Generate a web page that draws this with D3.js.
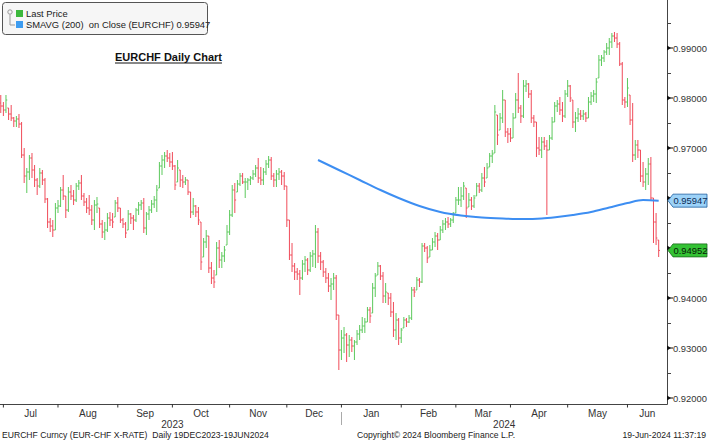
<!DOCTYPE html>
<html>
<head>
<meta charset="utf-8">
<script src="https://cdn.jsdelivr.net/npm/d3@7"></script>
<style>
body { margin: 0; background: #fff; }
svg { display: block; font-family: "Liberation Sans", Arial, sans-serif; }
</style>
</head>
<body>
<svg id="chart" width="708" height="441"></svg>
<script>
// EURCHF daily bars, 30 Jun 2023 .. 19 Jun 2024
const closes = [
	0.9784, 0.9776, 0.9796, 0.9768, 0.9760, 0.9754, 0.9758, 0.9748, 0.9686, 0.9644,
	0.9652, 0.9680, 0.9656, 0.9636, 0.9624, 0.9650, 0.9636, 0.9598, 0.9552, 0.9544,
	0.9536, 0.9580, 0.9584, 0.9616, 0.9604, 0.9576, 0.9612, 0.9604, 0.9596, 0.9624,
	0.9630, 0.9604, 0.9592, 0.9580, 0.9576, 0.9556, 0.9586, 0.9588, 0.9548, 0.9532,
	0.9536, 0.9560, 0.9556, 0.9552, 0.9590, 0.9580, 0.9556, 0.9548, 0.9530, 0.9568,
	0.9560, 0.9556, 0.9576, 0.9586, 0.9590, 0.9540, 0.9568, 0.9576, 0.9588, 0.9596,
	0.9616, 0.9664, 0.9676, 0.9684, 0.9680, 0.9672, 0.9664, 0.9626, 0.9660, 0.9636,
	0.9632, 0.9636, 0.9612, 0.9572, 0.9584, 0.9572, 0.9556, 0.9472, 0.9512, 0.9524,
	0.9460, 0.9440, 0.9432, 0.9500, 0.9476, 0.9484, 0.9496, 0.9532, 0.9566, 0.9616,
	0.9596, 0.9628, 0.9644, 0.9632, 0.9632, 0.9636, 0.9640, 0.9648, 0.9660, 0.9640,
	0.9636, 0.9652, 0.9668, 0.9676, 0.9644, 0.9636, 0.9648, 0.9652, 0.9644, 0.9624,
	0.9556, 0.9486, 0.9464, 0.9452, 0.9448, 0.9440, 0.9468, 0.9476, 0.9456, 0.9484,
	0.9488, 0.9532, 0.9484, 0.9472, 0.9452, 0.9440, 0.9424, 0.9428, 0.9440, 0.9366,
	0.9296, 0.9320, 0.9326, 0.9306, 0.9316, 0.9304, 0.9312, 0.9328, 0.9336, 0.9344,
	0.9352, 0.9376, 0.9364, 0.9420, 0.9444, 0.9464, 0.9444, 0.9404, 0.9412, 0.9400,
	0.9372, 0.9336, 0.9356, 0.9320, 0.9336, 0.9356, 0.9352, 0.9360, 0.9416, 0.9412,
	0.9436, 0.9432, 0.9504, 0.9500, 0.9480, 0.9496, 0.9512, 0.9524, 0.9516, 0.9536,
	0.9548, 0.9552, 0.9548, 0.9556, 0.9568, 0.9596, 0.9596, 0.9604, 0.9624, 0.9580,
	0.9596, 0.9584, 0.9600, 0.9624, 0.9616, 0.9640, 0.9632, 0.9660, 0.9684, 0.9688,
	0.9772, 0.9726, 0.9760, 0.9796, 0.9732, 0.9728, 0.9720, 0.9760, 0.9796, 0.9780,
	0.9764, 0.9824, 0.9828, 0.9808, 0.9760, 0.9752, 0.9700, 0.9696, 0.9712, 0.9704,
	0.9696, 0.9720, 0.9752, 0.9784, 0.9788, 0.9776, 0.9764, 0.9808, 0.9824, 0.9800,
	0.9752, 0.9760, 0.9768, 0.9764, 0.9768, 0.9760, 0.9792, 0.9804, 0.9808, 0.9832,
	0.9876, 0.9880, 0.9892, 0.9900, 0.9912, 0.9924, 0.9920, 0.9908, 0.9868, 0.9796,
	0.9792, 0.9820, 0.9756, 0.9686, 0.9706, 0.9696, 0.9644, 0.9632, 0.9648, 0.9668,
	0.9600, 0.9552, 0.9520, 0.94952
];
const highs = [
	0.9806, 0.9792, 0.9806, 0.9780, 0.9786, 0.9762, 0.9764, 0.9768, 0.9752, 0.9700,
	0.9660, 0.9686, 0.9690, 0.9666, 0.9640, 0.9660, 0.9656, 0.9640, 0.9600, 0.9560,
	0.9556, 0.9590, 0.9596, 0.9622, 0.9646, 0.9604, 0.9622, 0.9626, 0.9616, 0.9630,
	0.9636, 0.9646, 0.9610, 0.9600, 0.9606, 0.9586, 0.9596, 0.9602, 0.9580, 0.9556,
	0.9552, 0.9570, 0.9572, 0.9570, 0.9596, 0.9602, 0.9580, 0.9560, 0.9552, 0.9576,
	0.9570, 0.9566, 0.9580, 0.9592, 0.9596, 0.9600, 0.9572, 0.9584, 0.9596, 0.9604,
	0.9626, 0.9672, 0.9686, 0.9692, 0.9696, 0.9690, 0.9692, 0.9666, 0.9676, 0.9656,
	0.9646, 0.9642, 0.9636, 0.9612, 0.9600, 0.9586, 0.9582, 0.9552, 0.9520, 0.9536,
	0.9524, 0.9472, 0.9456, 0.9512, 0.9516, 0.9492, 0.9504, 0.9546, 0.9576, 0.9626,
	0.9630, 0.9636, 0.9650, 0.9650, 0.9640, 0.9640, 0.9644, 0.9656, 0.9666, 0.9680,
	0.9662, 0.9660, 0.9676, 0.9684, 0.9682, 0.9650, 0.9656, 0.9660, 0.9656, 0.9652,
	0.9624, 0.9556, 0.9510, 0.9470, 0.9460, 0.9456, 0.9476, 0.9484, 0.9480, 0.9492,
	0.9496, 0.9546, 0.9540, 0.9492, 0.9476, 0.9460, 0.9450, 0.9440, 0.9450, 0.9446,
	0.9366, 0.9336, 0.9342, 0.9330, 0.9326, 0.9322, 0.9316, 0.9336, 0.9346, 0.9362,
	0.9360, 0.9382, 0.9382, 0.9430, 0.9450, 0.9472, 0.9466, 0.9452, 0.9430, 0.9410,
	0.9410, 0.9392, 0.9370, 0.9360, 0.9340, 0.9362, 0.9360, 0.9366, 0.9422, 0.9422,
	0.9442, 0.9440, 0.9510, 0.9510, 0.9504, 0.9506, 0.9520, 0.9532, 0.9530, 0.9544,
	0.9556, 0.9560, 0.9562, 0.9560, 0.9572, 0.9602, 0.9622, 0.9622, 0.9632, 0.9620,
	0.9610, 0.9602, 0.9606, 0.9630, 0.9630, 0.9650, 0.9662, 0.9670, 0.9690, 0.9696,
	0.9786, 0.9766, 0.9770, 0.9816, 0.9796, 0.9740, 0.9740, 0.9770, 0.9810, 0.9850,
	0.9786, 0.9836, 0.9836, 0.9830, 0.9816, 0.9766, 0.9752, 0.9722, 0.9722, 0.9722,
	0.9716, 0.9726, 0.9762, 0.9792, 0.9796, 0.9802, 0.9792, 0.9816, 0.9836, 0.9826,
	0.9796, 0.9772, 0.9780, 0.9776, 0.9776, 0.9772, 0.9802, 0.9812, 0.9816, 0.9840,
	0.9886, 0.9886, 0.9896, 0.9910, 0.9920, 0.9930, 0.9932, 0.9930, 0.9912, 0.9872,
	0.9802, 0.9840, 0.9806, 0.9790, 0.9716, 0.9716, 0.9696, 0.9672, 0.9660, 0.9680,
	0.9682, 0.9600, 0.9570, 0.9516
];
const lows = [
	0.9770, 0.9764, 0.9770, 0.9756, 0.9754, 0.9742, 0.9742, 0.9740, 0.9680, 0.9630,
	0.9610, 0.9636, 0.9640, 0.9622, 0.9606, 0.9620, 0.9626, 0.9590, 0.9540, 0.9532,
	0.9522, 0.9536, 0.9570, 0.9582, 0.9596, 0.9560, 0.9572, 0.9596, 0.9586, 0.9592,
	0.9616, 0.9596, 0.9584, 0.9570, 0.9566, 0.9546, 0.9536, 0.9570, 0.9540, 0.9520,
	0.9516, 0.9532, 0.9544, 0.9540, 0.9562, 0.9572, 0.9550, 0.9540, 0.9520, 0.9536,
	0.9548, 0.9536, 0.9552, 0.9566, 0.9576, 0.9530, 0.9526, 0.9556, 0.9570, 0.9580,
	0.9572, 0.9620, 0.9646, 0.9660, 0.9672, 0.9662, 0.9656, 0.9616, 0.9632, 0.9622,
	0.9620, 0.9626, 0.9606, 0.9560, 0.9566, 0.9562, 0.9546, 0.9456, 0.9482, 0.9500,
	0.9450, 0.9428, 0.9420, 0.9446, 0.9460, 0.9460, 0.9472, 0.9506, 0.9526, 0.9562,
	0.9570, 0.9612, 0.9624, 0.9628, 0.9600, 0.9616, 0.9626, 0.9636, 0.9642, 0.9630,
	0.9626, 0.9626, 0.9646, 0.9660, 0.9636, 0.9622, 0.9622, 0.9636, 0.9626, 0.9616,
	0.9542, 0.9476, 0.9452, 0.9436, 0.9436, 0.9406, 0.9436, 0.9452, 0.9446, 0.9452,
	0.9462, 0.9460, 0.9470, 0.9456, 0.9442, 0.9430, 0.9412, 0.9396, 0.9416, 0.9356,
	0.9256, 0.9276, 0.9290, 0.9272, 0.9282, 0.9292, 0.9276, 0.9306, 0.9316, 0.9330,
	0.9330, 0.9352, 0.9350, 0.9370, 0.9402, 0.9446, 0.9436, 0.9390, 0.9390, 0.9386,
	0.9362, 0.9322, 0.9316, 0.9306, 0.9310, 0.9340, 0.9342, 0.9350, 0.9356, 0.9402,
	0.9416, 0.9422, 0.9430, 0.9492, 0.9470, 0.9482, 0.9496, 0.9502, 0.9496, 0.9516,
	0.9530, 0.9536, 0.9540, 0.9542, 0.9550, 0.9570, 0.9586, 0.9582, 0.9596, 0.9560,
	0.9582, 0.9576, 0.9580, 0.9604, 0.9610, 0.9612, 0.9622, 0.9640, 0.9662, 0.9670,
	0.9690, 0.9706, 0.9736, 0.9750, 0.9722, 0.9710, 0.9712, 0.9720, 0.9760, 0.9770,
	0.9750, 0.9760, 0.9812, 0.9800, 0.9750, 0.9742, 0.9682, 0.9686, 0.9680, 0.9696,
	0.9566, 0.9696, 0.9716, 0.9752, 0.9772, 0.9766, 0.9752, 0.9760, 0.9802, 0.9792,
	0.9740, 0.9732, 0.9752, 0.9756, 0.9756, 0.9752, 0.9760, 0.9786, 0.9792, 0.9790,
	0.9840, 0.9864, 0.9872, 0.9886, 0.9886, 0.9900, 0.9912, 0.9900, 0.9864, 0.9786,
	0.9780, 0.9782, 0.9746, 0.9672, 0.9676, 0.9680, 0.9632, 0.9622, 0.9616, 0.9626,
	0.9596, 0.9510, 0.9506, 0.9482
];
const firstOpen = 0.9790;

// 200-day simple moving average, read at a few bars and smoothed by the curve
const smaIndex = [122, 130, 138, 146, 153, 161, 169, 177, 185, 193, 201, 208, 214, 220, 227, 234, 241, 247, 253];
const smaValues = [0.9676, 0.9656, 0.9636, 0.9616, 0.9600, 0.9584, 0.9572, 0.9565, 0.9561, 0.9559, 0.9558, 0.9559, 0.9562, 0.9566, 0.9572, 0.9581, 0.9590, 0.9596, 0.95947];

const firstDay = '2023-06-30';
const lastDay = '2024-06-19';
const lastPrice = 0.94952;
const lastSma = 0.95947;

const legendItems = [
	{ label: 'Last Price', color: '#3cb83c' },
	{ label: 'SMAVG (200)\u00A0\u00A0on Close (EURCHF) 0.95947', color: '#3d9cf0' },
];
const title = 'EURCHF Daily Chart';
const footerLeft = 'EURCHF Curncy (EUR-CHF X-RATE)\u00A0\u00A0Daily 19DEC2023-19JUN2024';
const footerMid = 'Copyright\u00A9 2024 Bloomberg Finance L.P.';
const footerRight = '19-Jun-2024 11:37:19';

const up = '#5cc95c';
const down = '#f04c5a';

const svg = d3.select('#chart');
const plotRight = 667;
const plotBottom = 404;

const days = d3.utcDay.range(new Date(firstDay), d3.utcDay.offset(new Date(lastDay), 1))
	.filter(d => d.getUTCDay() !== 0 && d.getUTCDay() !== 6);

const bars = days.map((d, i) => {
	const prev = i === 0 ? firstOpen : closes[i - 1];
	const open = Math.min(highs[i], Math.max(lows[i], prev));
	return { date: d, i, open, high: highs[i], low: lows[i], close: closes[i] };
});

const x = d3.scaleLinear().domain([-0.3, 256.2]).range([0, plotRight]);
const y = d3.scaleLinear().domain([0.9188, 0.9996]).range([plotBottom, 0]);

// bars
const g = svg.append('g').attr('class', 'bars');
const bar = g.selectAll('g').data(bars).join('g')
	.attr('stroke', d => d.close >= d.open ? up : down)
	.attr('stroke-width', 1);
bar.append('line')
	.attr('x1', d => x(d.i)).attr('x2', d => x(d.i))
	.attr('y1', d => y(d.high)).attr('y2', d => y(d.low));
bar.append('line')
	.attr('x1', d => x(d.i) - 1.3).attr('x2', d => x(d.i))
	.attr('y1', d => y(d.open)).attr('y2', d => y(d.open));
bar.append('line')
	.attr('x1', d => x(d.i)).attr('x2', d => x(d.i) + 1.3)
	.attr('y1', d => y(d.close)).attr('y2', d => y(d.close));

// moving average
const sma = smaIndex.map((i, k) => [i, smaValues[k]]);
svg.append('path')
	.datum(sma)
	.attr('d', d3.line().x(d => x(d[0])).y(d => y(d[1])).curve(d3.curveMonotoneX))
	.attr('fill', 'none')
	.attr('stroke', '#3d8ef2')
	.attr('stroke-width', 2);

// right axis
const axis = svg.append('g');
axis.append('line')
	.attr('x1', plotRight + 0.5).attr('x2', plotRight + 0.5)
	.attr('y1', 0).attr('y2', plotBottom + 0.5)
	.attr('stroke', '#444');
const minor = y.ticks(16).filter(t => Math.round(t * 1000) % 10 !== 0);
axis.selectAll('line.minor').data(minor).join('line')
	.attr('class', 'minor')
	.attr('x1', plotRight).attr('x2', plotRight + 4)
	.attr('y1', d => Math.round(y(d)) + 0.5).attr('y2', d => Math.round(y(d)) + 0.5)
	.attr('stroke', '#444');
const major = y.ticks(8);
axis.selectAll('path.major').data(major).join('path')
	.attr('class', 'major')
	.attr('d', d => `M${plotRight},${y(d) - 2.5}L${plotRight + 4},${y(d)}L${plotRight},${y(d) + 2.5}Z`)
	.attr('fill', '#111');
axis.selectAll('line.major').data(major).join('line')
	.attr('class', 'major')
	.attr('x1', plotRight).attr('x2', plotRight + 6)
	.attr('y1', d => y(d)).attr('y2', d => y(d))
	.attr('stroke', '#111');
// labels hidden behind the price tags are left out, as on the terminal
const freeLabels = major.filter(t => Math.abs(y(t) - y(lastSma)) > 12 && Math.abs(y(t) - y(lastPrice)) > 12);
axis.selectAll('text').data(freeLabels).join('text')
	.attr('x', plotRight + 6)
	.attr('y', d => y(d) + 3.5)
	.attr('font-size', 9.4)
	.attr('fill', '#333')
	.text(d => d3.format('.5f')(d));

// price tags
function tag (value, fill, stroke, color) {
	const ty = y(value);
	svg.append('path')
		.attr('d', `M${plotRight + 1},${ty}L${plotRight + 6},${ty - 6.5}H707V${ty + 6.5}H${plotRight + 6}Z`)
		.attr('fill', fill)
		.attr('stroke', stroke)
		.attr('stroke-width', 0.8);
	svg.append('text')
		.attr('x', plotRight + 6.5)
		.attr('y', ty + 3.5)
		.attr('font-size', 9.4)
		.attr('fill', color)
		.text(d3.format('.5f')(value));
}
tag(lastSma, '#9cd2f8', '#1d5e9e', '#0b2a55');
tag(lastPrice, '#34c234', '#1b6b1b', '#061806');

// bottom axis
const monthStarts = bars.filter((d, i) => i > 0 && d.date.getUTCMonth() !== bars[i - 1].date.getUTCMonth());
svg.append('line')
	.attr('x1', 0).attr('x2', plotRight + 0.5)
	.attr('y1', plotBottom + 0.5).attr('y2', plotBottom + 0.5)
	.attr('stroke', '#444');
svg.selectAll('line.xtick').data(monthStarts).join('line')
	.attr('class', 'xtick')
	.attr('x1', d => x(d.i)).attr('x2', d => x(d.i))
	.attr('y1', plotBottom).attr('y2', plotBottom + 3.5)
	.attr('stroke', '#333');
svg.selectAll('text.month').data(monthStarts).join('text')
	.attr('class', 'month')
	.attr('x', (d, k) => {
		const next = k < monthStarts.length - 1 ? x(monthStarts[k + 1].i) : plotRight;
		return (x(d.i) + next) / 2;
	})
	.attr('y', 417)
	.attr('text-anchor', 'middle')
	.attr('font-size', 10)
	.attr('fill', '#333')
	.text(d => d3.utcFormat('%b')(d.date));

const jan = monthStarts.find(d => d.date.getUTCMonth() === 0);
svg.append('line')
	.attr('x1', Math.round(x(jan.i)) + 0.5).attr('x2', Math.round(x(jan.i)) + 0.5)
	.attr('y1', 412).attr('y2', 425)
	.attr('stroke', '#aaa');
const yearSpans = [[x(monthStarts[0].i), x(jan.i)], [x(jan.i), plotRight]];
svg.selectAll('text.year').data(yearSpans).join('text')
	.attr('class', 'year')
	.attr('x', d => (d[0] + d[1]) / 2)
	.attr('y', 428)
	.attr('text-anchor', 'middle')
	.attr('font-size', 10)
	.attr('fill', '#333')
	.text((d, k) => d3.utcFormat('%Y')(k === 0 ? monthStarts[0].date : jan.date));

// footer
svg.append('text').attr('x', 2).attr('y', 438).attr('font-size', 8.6).attr('fill', '#222').text(footerLeft);
svg.append('text').attr('x', 357).attr('y', 438).attr('font-size', 8.6).attr('fill', '#222').text(footerMid);
svg.append('text').attr('x', 706).attr('y', 438).attr('font-size', 8.6).attr('fill', '#222')
	.attr('text-anchor', 'end').text(footerRight);

// legend
const legend = svg.append('g');
legend.append('rect')
	.attr('x', 2.5).attr('y', 2.5).attr('width', 205).attr('height', 32).attr('rx', 3)
	.attr('fill', '#f6f6f6').attr('stroke', '#555');
legend.append('circle').attr('cx', 10).attr('cy', 12).attr('r', 2.2)
	.attr('fill', 'none').attr('stroke', '#999');
legend.append('path').attr('d', 'M10,14.5V25H15').attr('fill', 'none').attr('stroke', '#999');
const items = legend.selectAll('g').data(legendItems).join('g')
	.attr('transform', (d, k) => `translate(16, ${10 + k * 11})`);
items.append('rect').attr('width', 7).attr('height', 7).attr('fill', d => d.color);
items.append('text')
	.attr('x', 10).attr('y', 7)
	.attr('font-size', 9.4)
	.attr('fill', '#222')
	.text(d => d.label);

// title
const t = svg.append('text')
	.attr('x', 115).attr('y', 61)
	.attr('font-size', 11).attr('font-weight', 'bold')
	.attr('fill', '#111')
	.text(title);
const tw = t.node().getComputedTextLength();
svg.append('line')
	.attr('x1', 115).attr('x2', 115 + tw)
	.attr('y1', 63).attr('y2', 63)
	.attr('stroke', '#111').attr('stroke-width', 1);
</script>
</body>
</html>
